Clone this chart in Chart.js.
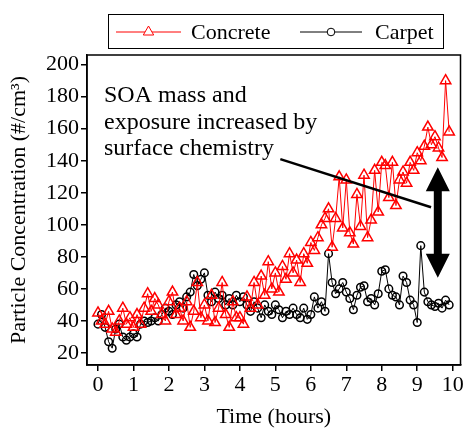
<!DOCTYPE html>
<html>
<head>
<meta charset="utf-8">
<script src="https://cdn.jsdelivr.net/npm/chart.js@4/dist/chart.umd.min.js"></script>
<style>
  html, body { margin: 0; padding: 0; background: #fff; }
  #wrap { width: 468px; height: 430px; }
</style>
</head>
<body>
<div id="wrap"><canvas id="chart" width="468" height="430"></canvas></div>
<script>
// ===== data (hours since start) =====
const hours = [
  0.0, 0.1, 0.2, 0.3, 0.4, 0.5, 0.6, 0.7, 0.8, 0.9,
  1.0, 1.1, 1.2, 1.3, 1.4, 1.5, 1.6, 1.7, 1.8, 1.9,
  2.0, 2.1, 2.2, 2.3, 2.4, 2.5, 2.6, 2.7, 2.8, 2.9,
  3.0, 3.1, 3.2, 3.3, 3.4, 3.5, 3.6, 3.7, 3.8, 3.9,
  4.0, 4.1, 4.2, 4.3, 4.4, 4.5, 4.6, 4.7, 4.8, 4.9,
  5.0, 5.1, 5.2, 5.3, 5.4, 5.5, 5.6, 5.7, 5.8, 5.9,
  6.0, 6.1, 6.2, 6.3, 6.4, 6.5, 6.6, 6.7, 6.8, 6.9,
  7.0, 7.1, 7.2, 7.3, 7.4, 7.5, 7.6, 7.7, 7.8, 7.9,
  8.0, 8.1, 8.2, 8.3, 8.4, 8.5, 8.6, 8.7, 8.8, 8.9,
  9.0, 9.1, 9.2, 9.3, 9.4, 9.5, 9.6, 9.7, 9.8, 9.9
];

const concrete = [
  45, 40, 38, 46, 35, 33, 40, 48, 38, 42,
  36, 44, 38, 48, 57, 46, 54, 50, 44, 40,
  52, 58, 44, 48, 40, 52, 36, 46, 64, 42,
  50, 40, 56, 39, 48, 64, 44, 36, 52, 42,
  42, 38, 55, 48, 64, 50, 68, 56, 77, 60,
  70, 58, 74, 66, 82, 70, 78, 64, 82, 76,
  89, 84, 92, 100, 104, 110, 86, 104, 130, 98,
  128, 95, 88, 119, 99, 131, 92, 103, 134, 108,
  139, 137, 117, 139, 112, 128, 133, 126, 139, 134,
  145, 140, 149, 161, 150, 155, 148, 142, 190, 158
];

const carpet = [
  38, 44, 36, 27, 23, 35, 38, 30, 28, 30,
  32, 30, 38, 40, 39, 40, 42, 40, 44, 48,
  46, 44, 50, 52, 48, 55, 58, 69, 62, 66,
  70, 56, 52, 58, 54, 56, 50, 54, 50, 56,
  52, 55, 50, 46, 52, 48, 42, 50, 46, 44,
  50, 47, 42, 46, 44, 48, 44, 42, 48, 41,
  44, 55, 48, 52, 46, 82, 64, 57, 60, 64,
  58, 54, 47, 56, 61, 62, 52, 54, 50, 57,
  71, 72, 60, 56, 55, 50, 68, 64, 53, 50,
  39, 87, 58, 52, 50, 49, 51, 48, 53, 50
];

const yTicks = [20, 40, 60, 80, 100, 120, 140, 160, 180, 200];
const xTicks = [0, 1, 2, 3, 4, 5, 6, 7, 8, 9, 10];
const seriesNames = ['Concrete', 'Carpet'];
const noteLines = ['SOA mass and', 'exposure increased by', 'surface chemistry'];

const FONT = '"Liberation Serif", "Times New Roman", serif';

// ===== legend box, frame and annotation =====
const extras = {
  id: 'extras',
  afterDraw(chart) {
    const ctx = chart.ctx;
    const a = chart.chartArea;
    const xs = chart.scales.x, ys = chart.scales.y;
    ctx.save();

    // top/right frame
    ctx.strokeStyle = '#000';
    ctx.lineWidth = 1.5;
    ctx.strokeRect(a.left, a.top, a.right - a.left, a.bottom - a.top);

    // legend
    ctx.lineWidth = 1;
    ctx.strokeRect(108.5, 14.5, 335, 34);
    ctx.font = '22px ' + FONT;
    ctx.textBaseline = 'middle';
    ctx.fillStyle = '#000';
    const items = [
      { x0: 116, x1: 181, tx: 191, ds: chart.data.datasets[0] },
      { x0: 300, x1: 362, tx: 375, ds: chart.data.datasets[1] }
    ];
    items.forEach(it => {
      ctx.strokeStyle = it.ds.borderColor;
      ctx.lineWidth = 1;
      ctx.beginPath();
      ctx.moveTo(it.x0, 32);
      ctx.lineTo(it.x1, 32);
      ctx.stroke();
      ctx.fillStyle = '#fff';
      Chart.helpers.drawPoint(ctx, {
        pointStyle: it.ds.pointStyle,
        radius: it.ds.pointRadius,
        rotation: 0,
        borderWidth: it.ds.pointBorderWidth
      }, (it.x0 + it.x1) / 2, 32);
      ctx.fillStyle = '#000';
      ctx.fillText(it.ds.label, it.tx, 33);
    });

    // annotation text
    ctx.font = '24px ' + FONT;
    ctx.textBaseline = 'alphabetic';
    ctx.textAlign = 'left';
    noteLines.forEach((t, i) => ctx.fillText(t, 104, 102 + i * 26.5));

    // pointer line
    ctx.strokeStyle = '#000';
    ctx.lineWidth = 2.5;
    ctx.beginPath();
    ctx.moveTo(xs.getPixelForValue(5.14), ys.getPixelForValue(141));
    ctx.lineTo(xs.getPixelForValue(9.39), ys.getPixelForValue(111));
    ctx.stroke();

    // double arrow
    const ax = xs.getPixelForValue(9.58);
    const yt = ys.getPixelForValue(136), yb = ys.getPixelForValue(67);
    const hw = 12, hl = 24, sw = 4;
    ctx.fillStyle = '#000';
    ctx.beginPath();
    ctx.moveTo(ax, yt);
    ctx.lineTo(ax + hw, yt + hl);
    ctx.lineTo(ax + sw, yt + hl);
    ctx.lineTo(ax + sw, yb - hl);
    ctx.lineTo(ax + hw, yb - hl);
    ctx.lineTo(ax, yb);
    ctx.lineTo(ax - hw, yb - hl);
    ctx.lineTo(ax - sw, yb - hl);
    ctx.lineTo(ax - sw, yt + hl);
    ctx.lineTo(ax - hw, yt + hl);
    ctx.closePath();
    ctx.fill();

    ctx.restore();
  }
};

new Chart(document.getElementById('chart').getContext('2d'), {
  type: 'line',
  data: {
    datasets: [
      {
        label: seriesNames[0],
        data: hours.map((h, i) => ({ x: h, y: concrete[i] })),
        borderColor: '#ff0000',
        borderWidth: 1,
        pointStyle: 'triangle',
        pointRadius: 6,
        pointBorderWidth: 1.5,
        pointBorderColor: '#ff0000',
        pointBackgroundColor: 'rgba(0,0,0,0)',
        tension: 0
      },
      {
        label: seriesNames[1],
        data: hours.map((h, i) => ({ x: h, y: carpet[i] })),
        borderColor: '#000000',
        borderWidth: 1,
        pointStyle: 'circle',
        pointRadius: 3.8,
        pointBorderWidth: 1.5,
        pointBorderColor: '#000000',
        pointBackgroundColor: 'rgba(0,0,0,0)',
        tension: 0
      }
    ]
  },
  options: {
    responsive: false,
    animation: false,
    layout: { padding: { top: 55, right: 4, left: 0, bottom: 0 } },
    plugins: { legend: { display: false }, tooltip: { enabled: false } },
    scales: {
      x: {
        type: 'linear',
        min: -0.31,
        max: 10.22,
        afterBuildTicks: s => { s.ticks = xTicks.map(v => ({ value: v })); },
        afterFit: s => { s.height = 65; },
        grid: { drawOnChartArea: false, drawTicks: true, tickLength: 6, color: '#000', lineWidth: 1.5 },
        border: { display: true, color: '#000', width: 1.5 },
        ticks: { color: '#000', font: { family: FONT, size: 22 }, padding: 1, maxRotation: 0, autoSkip: false },
        title: { display: true, text: 'Time (hours)', color: '#000', font: { family: FONT, size: 22 }, padding: { top: 0, bottom: 0 } }
      },
      y: {
        min: 12.5,
        max: 206,
        afterBuildTicks: s => { s.ticks = yTicks.map(v => ({ value: v })); },
        afterFit: s => { s.width = 87; },
        grid: { drawOnChartArea: false, drawTicks: true, tickLength: 6, color: '#000', lineWidth: 1.5 },
        border: { display: true, color: '#000', width: 1.5 },
        ticks: { color: '#000', font: { family: FONT, size: 22 }, padding: 2, autoSkip: false },
        title: { display: true, text: 'Particle Concentration (#/cm³)', color: '#000', font: { family: FONT, size: 22 }, padding: { top: 6, bottom: 0 } }
      }
    }
  },
  plugins: [extras]
});
</script>
</body>
</html>
